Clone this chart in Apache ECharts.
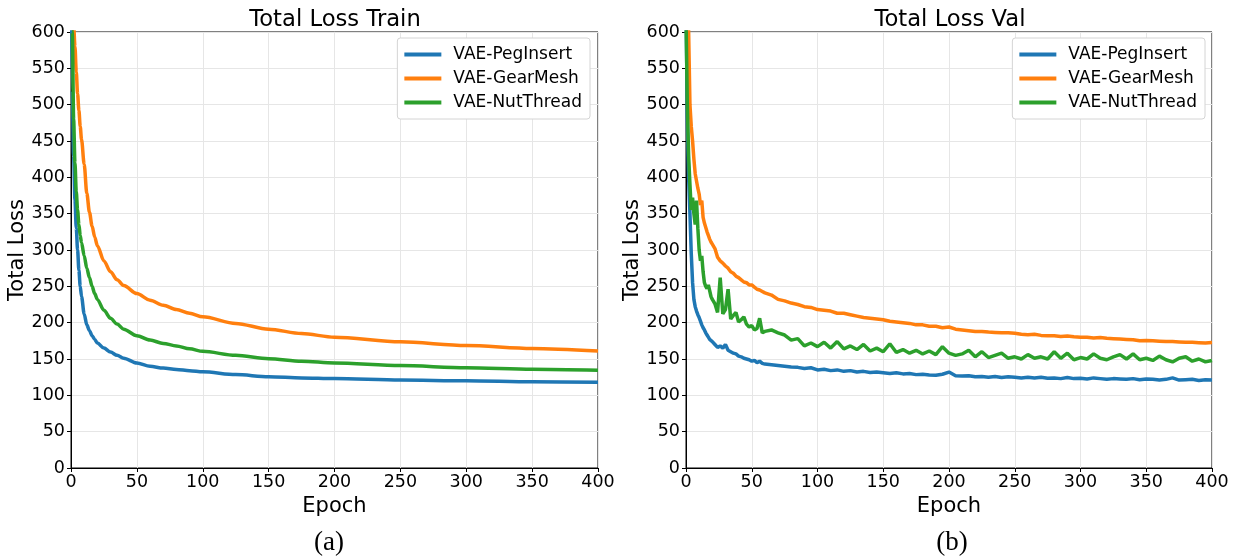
<!DOCTYPE html>
<html>
<head>
<meta charset="utf-8">
<script src="https://cdn.jsdelivr.net/npm/echarts@6/dist/echarts.min.js"></script>
<style>
  html, body { margin: 0; padding: 0; background: #fff; }
  #main { width: 1239px; height: 559px; }
</style>
</head>
<body>
<div id="main"></div>
<script>
// series names
const seriesNames = ['VAE-PegInsert', 'VAE-GearMesh', 'VAE-NutThread']
const colors = ['#1f77b4', '#ff7f0e', '#2ca02c']

// training curves (smooth), sampled epochs
const trainEpochs = [0, 1, 2, 3, 4, 5, 6, 7, 8, 10, 12, 14, 16, 18, 20, 25, 30, 35, 40, 50, 60, 70, 80, 90, 100, 125, 150, 175, 200, 250, 300, 350, 400]
const trainPeg = [700, 520, 430, 369, 330, 300, 272, 250, 236, 212, 197, 189, 182, 177, 172, 165, 159.5, 155, 151, 144.5, 140, 137.5, 135.5, 134, 132.5, 128.5, 125.5, 124, 123, 121, 120, 118.6, 118]
const trainGear = [1000, 780, 610, 580, 545, 515, 492, 470, 452, 418, 378, 352, 333, 318, 306, 285, 270, 259, 251, 240, 231, 224, 218, 213, 208, 199, 191, 185, 180, 173.6, 168.6, 164.5, 161]
const trainNut = [800, 600, 480, 420, 380, 355, 335, 320, 310, 292, 275, 262, 250, 240, 232, 217, 206, 198, 191, 182, 176, 171.5, 168, 164, 160.5, 155, 150.5, 147, 144.5, 141, 138, 136, 134.5]

// validation curves (noisy)
const valEpochs = [
  0, 1, 2, 3, 4, 5, 6, 7, 8, 9, 10, 11, 12, 13, 14, 15, 16, 17, 18, 19, 20,
  22, 24, 26, 28, 30, 32, 34, 36, 38, 40, 42, 44, 46, 48, 50, 52, 54, 56, 58, 60,
  65, 70, 75, 80, 85, 90, 95, 100, 105, 110, 115, 120, 125, 130, 135, 140, 145, 150,
  155, 160, 165, 170, 175, 180, 185, 190, 195, 200, 205, 210, 215, 220, 225, 230, 235, 240,
  245, 250, 255, 260, 265, 270, 275, 280, 285, 290, 295, 300, 305, 310, 315, 320, 325, 330,
  335, 340, 345, 350, 355, 360, 365, 370, 375, 380, 385, 390, 395, 400
]
const valPeg = [
  650, 480, 400, 350, 295, 255, 232, 222, 216, 211, 207, 202, 197, 193, 190, 186, 183, 180, 177, 175, 174,
  170, 166, 168, 165, 170, 162, 160, 158, 157, 154, 153, 151, 150, 149, 147, 148, 145, 147, 144, 143,
  142, 141, 140, 139, 138.5, 137, 138, 135, 136, 134, 135, 133, 134, 132, 133, 131.5, 132, 131,
  130, 131, 129.5, 130, 128.5, 129, 128, 127.5, 129, 132, 127, 126.5, 127, 125.5, 126, 125, 126, 124.5,
  125.5, 125, 124, 125, 124, 125, 123.5, 124, 123, 124.5, 123, 123.5, 122.5, 124, 123, 122, 123, 122.5,
  122, 123, 121.5, 122.5, 122, 121, 122, 124, 121, 121.5, 122, 120.5, 121.5, 121
]
const valGear = [
  700, 650, 600, 500, 470, 450, 425, 405, 395, 385, 377, 362, 368, 345, 337, 336, 325, 320, 315, 311, 308,
  302, 290, 285, 282, 278, 275, 270, 268, 264, 262, 259, 256, 255, 252, 252, 249, 246, 245, 243, 241,
  238, 232, 230, 227, 225, 222, 221, 218, 217, 216, 213, 213, 211, 209, 207, 206, 205, 204,
  202, 201, 200, 199, 197, 197, 195, 195, 193, 194, 191, 190, 189, 188, 188, 187, 186.5, 186,
  186, 185.5, 184, 183.5, 184, 182.5, 182, 182, 181, 181.5, 180.5, 180, 180, 179, 179.5, 178.5, 178, 177.5,
  177, 176.5, 175, 175.5, 175, 174.5, 174, 174, 173.5, 173, 173, 172.5, 172, 172.7
]
const valNut = [
  620, 500, 430, 390, 355, 372, 350, 335, 368, 330, 300, 285, 292, 270, 255, 250, 247, 252, 244, 236, 232,
  226, 214, 262, 212, 218, 246, 205, 210, 214, 201, 204, 208, 198, 194, 196, 190, 192, 206, 186, 188,
  190, 186, 183, 176, 178, 168, 172, 167, 173, 165, 174, 164, 168, 163, 170, 161, 165, 160,
  171, 159, 163, 158, 162, 157, 161, 156, 167, 158, 155, 157, 162, 153, 160, 152, 155, 158,
  151, 153, 150, 156, 151, 153, 150, 160, 151, 158, 149, 152, 150, 157, 151, 149, 153, 156,
  150, 157, 149, 151, 148, 154, 149, 146, 151, 153, 147, 150, 146, 148
]

const chart = echarts.init(document.getElementById('main'))

const sans = '"DejaVu Sans", Verdana, sans-serif'
const tickFont = { fontFamily: sans, fontSize: 17.5, color: '#000' }
const nameFont = { fontFamily: sans, fontSize: 21, color: '#000' }
const titleFont = { fontFamily: sans, fontSize: 22.7, fontWeight: 'normal', color: '#000' }
const capFont = { fontFamily: '"Liberation Serif", serif', fontSize: 27, fontWeight: 'normal', color: '#000' }

function makeX(gridIndex) {
  return {
    type: 'value', gridIndex, min: 0, max: 400, interval: 50,
    name: 'Epoch', nameLocation: 'middle', nameGap: 24, nameTextStyle: nameFont,
    axisLine: { show: true, onZero: false, lineStyle: { color: '#000', width: 1 } },
    axisTick: { show: true, length: 4, lineStyle: { color: '#000' } },
    axisLabel: Object.assign({ margin: 5 }, tickFont),
    splitLine: { show: true, lineStyle: { color: '#e6e6e6', width: 1 } }
  }
}
function makeY(gridIndex) {
  return {
    type: 'value', gridIndex, min: 0, max: 600, interval: 50,
    name: 'Total Loss', nameLocation: 'middle', nameGap: 43, nameTextStyle: nameFont,
    axisLine: { show: true, onZero: false, lineStyle: { color: '#000', width: 1 } },
    axisTick: { show: true, length: 4, lineStyle: { color: '#000' } },
    axisLabel: Object.assign({ margin: 6 }, tickFont),
    splitLine: { show: true, lineStyle: { color: '#e6e6e6', width: 1 } }
  }
}
function pairs(xs, ys) {
  return xs.map((x, i) => [x, ys[i]])
}
function makeLine(name, idx, gridIndex, xs, ys, smooth) {
  return {
    name, type: 'line', xAxisIndex: gridIndex, yAxisIndex: gridIndex,
    data: pairs(xs, ys), showSymbol: false, smooth: smooth ? 0.3 : false,
    smoothMonotone: 'x', clip: true,
    lineStyle: { color: colors[idx], width: 3.5 }, itemStyle: { color: colors[idx] }
  }
}
function makeLegend(right) {
  return {
    data: seriesNames, orient: 'vertical', right, top: 38,
    icon: 'rect', itemWidth: 37, itemHeight: 4, itemGap: 7,
    padding: [8, 8, 8, 7],
    backgroundColor: '#fff', borderColor: '#d4d4d4', borderWidth: 1, borderRadius: 3,
    textStyle: { fontFamily: sans, fontSize: 17, color: '#000', padding: [0, 0, 0, 7] }
  }
}

const option = {
  animation: false,
  backgroundColor: '#fff',
  title: [
    { text: 'Total Loss Train', left: 330, top: 4, textAlign: 'center', textStyle: titleFont },
    { text: 'Total Loss Val', left: 945, top: 4, textAlign: 'center', textStyle: titleFont },
    { text: '(a)', left: 324, top: 524, textAlign: 'center', textStyle: capFont },
    { text: '(b)', left: 947, top: 524, textAlign: 'center', textStyle: capFont }
  ],
  legend: [makeLegend(649), makeLegend(34)],
  grid: [
    { left: 71, right: 641, top: 32, bottom: 91, show: true, borderColor: '#000', borderWidth: 1 },
    { left: 686, right: 27, top: 32, bottom: 91, show: true, borderColor: '#000', borderWidth: 1 }
  ],
  xAxis: [makeX(0), makeX(1)],
  yAxis: [makeY(0), makeY(1)],
  series: [
    makeLine(seriesNames[0], 0, 0, trainEpochs, trainPeg, true),
    makeLine(seriesNames[1], 1, 0, trainEpochs, trainGear, true),
    makeLine(seriesNames[2], 2, 0, trainEpochs, trainNut, true),
    makeLine(seriesNames[0], 0, 1, valEpochs, valPeg, false),
    makeLine(seriesNames[1], 1, 1, valEpochs, valGear, false),
    makeLine(seriesNames[2], 2, 1, valEpochs, valNut, false)
  ]
}
chart.setOption(option)
</script>
</body>
</html>
